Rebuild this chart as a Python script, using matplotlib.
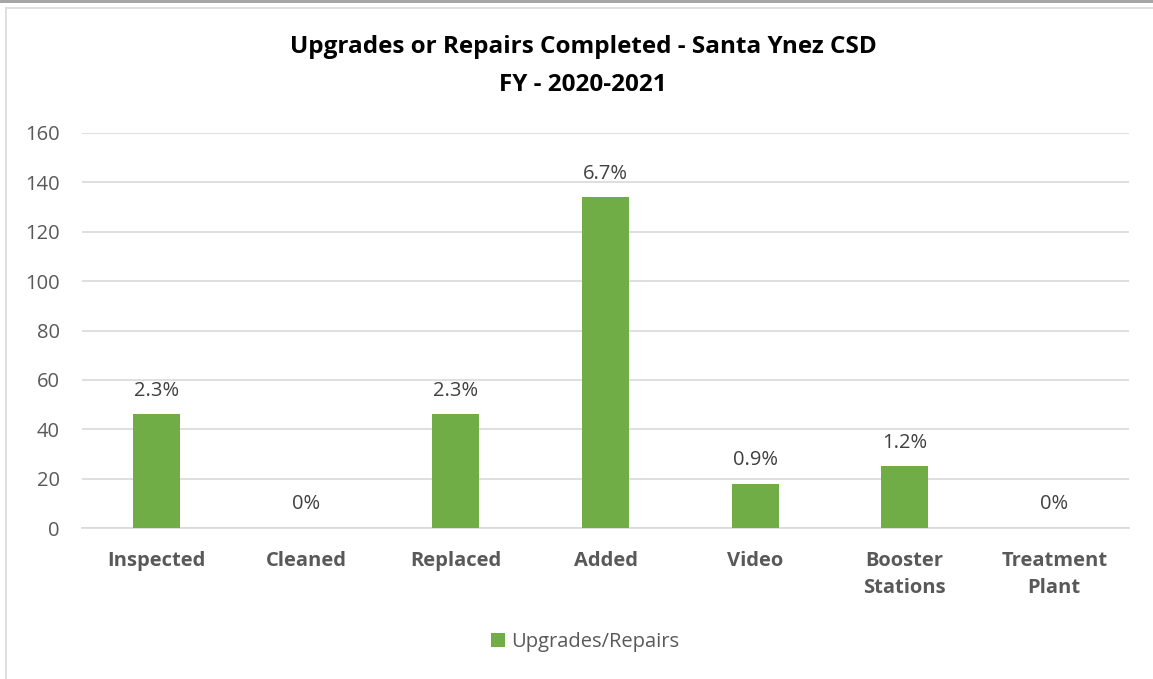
import numpy as np
import matplotlib.pyplot as plt
from matplotlib.patches import Rectangle
from matplotlib.lines import Line2D

categories = ['Inspected', 'Cleaned', 'Replaced', 'Added', 'Video', 'Booster\nStations', 'Treatment\nPlant']
values = [46, 0, 46, 134, 18, 25, 0]
labels = ['2.3%', '0%', '2.3%', '6.7%', '0.9%', '1.2%', '0%']
yticks = [0, 20, 40, 60, 80, 100, 120, 140, 160]

plt.rcParams['font.family'] = ['Open Sans', 'DejaVu Sans']
W, H = 1153, 679
fig = plt.figure(figsize=(W / 100, H / 100), dpi=100)

# frame bits of the screenshot
fig.patches.append(Rectangle((0, 1 - 3 / H), 1, 3 / H, transform=fig.transFigure,
                             color='#a6a6a6', lw=0))
fig.add_artist(Line2D([6 / W, 6 / W], [0, 1 - 8 / H], transform=fig.transFigure,
                      color='#d9d9d9', lw=1.2))
fig.add_artist(Line2D([6 / W, 1], [1 - 8 / H, 1 - 8 / H], transform=fig.transFigure,
                      color='#d9d9d9', lw=1.2))

ax = fig.add_axes([82 / W, 1 - 528 / H, (1129 - 82) / W, (528 - 133) / H])
x = np.arange(len(categories))
ax.bar(x, values, width=0.315, color='#70ad47', zorder=3, label='Upgrades/Repairs')
for xi, v, t in zip(x, values, labels):
    ax.text(xi, v + 5.5, t, ha='center', va='bottom', fontsize=14.5, color='#404040')

ax.set_xlim(-0.5, len(categories) - 0.5)
ax.set_ylim(0, 160)
ax.set_yticks(yticks)
ax.yaxis.grid(True, color='#d9d9d9', lw=1.2, zorder=0)
ax.tick_params(axis='y', length=0, labelsize=14.5, labelcolor='#595959', pad=16)
ax.set_xticks(x)
ax.set_xticklabels(categories, fontsize=14.5, fontweight='bold', color='#595959',
                   linespacing=1.45)
ax.tick_params(axis='x', length=0, pad=16.5)
for s in ['top', 'right', 'left']:
    ax.spines[s].set_visible(False)
ax.spines['bottom'].set_color('#d9d9d9')
ax.spines['bottom'].set_linewidth(1.2)

fig.text(583 / W, 1 - 47 / H, 'Upgrades or Repairs Completed - Santa Ynez CSD',
         ha='center', va='center', fontsize=17.5, fontweight='bold', color='black')
fig.text(583 / W, 1 - 85 / H, 'FY - 2020-2021',
         ha='center', va='center', fontsize=17.5, fontweight='bold', color='black')

fig.legend(loc='center', bbox_to_anchor=(585 / W, 1 - 642 / H), frameon=False,
           fontsize=14.5, labelcolor='#595959', handlelength=0.7, handleheight=0.7,
           handletextpad=0.3)

fig.savefig('out.png', dpi=100)
